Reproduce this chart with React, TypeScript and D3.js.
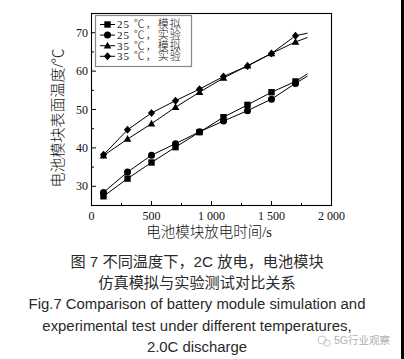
import React from "react";
import * as d3 from "d3";

const times = [100, 300, 500, 700, 900, 1100, 1300, 1500, 1700];
const endTime = 1800;
const sim25 = [27.4, 32.0, 36.2, 40.2, 44.1, 48.0, 51.2, 54.5, 57.3];
const exp25 = [28.4, 33.7, 38.1, 41.1, 44.2, 47.0, 49.7, 52.7, 56.8];
const sim35 = [38.0, 42.3, 46.3, 50.6, 54.5, 58.2, 61.4, 64.6, 67.6];
const exp35 = [38.2, 44.7, 49.1, 52.3, 55.3, 58.6, 61.3, 64.6, 69.2];
const endValues = [59.3, 58.7, 68.75, 69.9];
const seriesNames = ["25 ℃，模拟", "25 ℃，实验", "35 ℃，模拟", "35 ℃，实验"];
const markerKinds = ["square", "circle", "triangle", "diamond"];
const xTicks = [0, 500, 1000, 1500, 2000];
const xTickLabels = ["0", "500", "1 000", "1 500", "2 000"];
const xMinor = [250, 750, 1250, 1750];
const yTicks = [30, 40, 50, 60, 70];
const yMinor = [35, 45, 55, 65];
const captionLines = [
  "图 7  不同温度下，2C 放电，电池模块",
  "仿真模拟与实验测试对比关系",
];
const captionEn = [
  "Fig.7  Comparison of battery module simulation and",
  "experimental test under different temperatures,",
  "2.0C discharge",
];

const serif = "'Liberation Serif','Noto Sans CJK SC',serif";
const sans = "'Liberation Sans','Noto Sans CJK SC',sans-serif";

function Marker({ kind, x, y }: { kind: string; x: number; y: number }) {
  if (kind === "square") return <rect x={x - 3.2} y={y - 3.2} width={6.4} height={6.4} fill="#000" />;
  if (kind === "circle") return <circle cx={x} cy={y} r={3.5} fill="#000" />;
  if (kind === "triangle")
    return <path d={`M${x},${y - 4}L${x + 3.8},${y + 2.8}L${x - 3.8},${y + 2.8}Z`} fill="#000" />;
  return <path d={`M${x},${y - 4}L${x + 3.6},${y}L${x},${y + 4}L${x - 3.6},${y}Z`} fill="#000" />;
}

export default function App() {
  const x = d3.scaleLinear().domain([0, 2000]).range([91.5, 331.5]);
  const y = d3.scaleLinear().domain([25, 75]).range([205.5, 13.5]);
  const series = [sim25, exp25, sim35, exp35];
  const line = d3
    .line<[number, number]>()
    .x((d) => x(d[0]))
    .y((d) => y(d[1]));

  return (
    <svg
      width={404}
      height={359}
      style={{ position: "absolute", left: 0, top: 0, background: "#fff" }}
    >
      <rect x={0} y={0} width={404} height={359} fill="#fff" />
      <rect x={91.5} y={13.5} width={240} height={192} fill="none" stroke="#000" strokeWidth={1.1} />
      {xTicks.map((t) => (
        <line key={"xt" + t} x1={x(t)} x2={x(t)} y1={205.5} y2={201} stroke="#000" />
      ))}
      {xMinor.map((t) => (
        <line key={"xm" + t} x1={x(t)} x2={x(t)} y1={205.5} y2={203} stroke="#000" />
      ))}
      {yTicks.map((t) => (
        <line key={"yt" + t} x1={91.5} x2={96} y1={y(t)} y2={y(t)} stroke="#000" />
      ))}
      {yMinor.map((t) => (
        <line key={"ym" + t} x1={91.5} x2={94} y1={y(t)} y2={y(t)} stroke="#000" />
      ))}
      {xTicks.map((t, i) => (
        <text key={"xl" + t} x={x(t)} y={219.5} fontSize={12} fontFamily={serif} textAnchor="middle" fill="#111">
          {xTickLabels[i]}
        </text>
      ))}
      {yTicks.map((t) => (
        <text key={"yl" + t} x={88} y={y(t) + 4} fontSize={12} fontFamily={serif} textAnchor="end" fill="#111">
          {t}
        </text>
      ))}
      <text x={209} y={237} fontSize={14.5} fontWeight={300} fontFamily={serif} textAnchor="middle" fill="#111">
        电池模块放电时间/s
      </text>
      <text
        transform="translate(63,118) rotate(-90)"
        fontSize={15}
        fontWeight={300}
        fontFamily={serif}
        textAnchor="middle"
        fill="#111"
      >
        电池模块表面温度/℃
      </text>
      {series.map((vals, si) => {
        const pts: [number, number][] = times.map((t, i) => [t, vals[i]] as [number, number]);
        pts.push([endTime, endValues[si]]);
        return (
          <g key={"s" + si}>
            <path d={line(pts) || ""} fill="none" stroke="#000" strokeWidth={1} />
            {times.map((t, i) => (
              <Marker key={i} kind={markerKinds[si]} x={x(t)} y={y(vals[i])} />
            ))}
          </g>
        );
      })}
      <rect x={95.5} y={15.5} width={96} height={51} fill="#fff" stroke="#888" strokeWidth={1.2} />
      {seriesNames.map((n, i) => {
        const ly = 24.5 + i * 10.6;
        return (
          <g key={"lg" + i}>
            <line x1={100} x2={115} y1={ly} y2={ly} stroke="#000" />
            <Marker kind={markerKinds[i]} x={107.5} y={ly} />
            <text
              x={117}
              y={ly + 3.8}
              fontSize={11}
              fontWeight={300}
              letterSpacing={1}
              fontFamily={serif}
              fill="#111"
            >
              {n}
            </text>
          </g>
        );
      })}
      {captionLines.map((c, i) => (
        <text
          key={"c" + i}
          x={197}
          y={267 + i * 21}
          fontSize={15.2}
          fontWeight={400}
          fontFamily={sans}
          textAnchor="middle"
          fill="#2a2a2a"
        >
          {c}
        </text>
      ))}
      {captionEn.map((c, i) => (
        <text
          key={"e" + i}
          x={197}
          y={309 + i * 21.5}
          fontSize={14.9}
          fontFamily={sans}
          textAnchor="middle"
          fill="#2a2a2a"
        >
          {c}
        </text>
      ))}
      <circle cx={322} cy={340} r={4} fill="none" stroke="#c8c8c8" />
      <circle cx={327} cy={343} r={3.2} fill="none" stroke="#c8c8c8" />
      <text x={334} y={344} fontSize={10.5} fontFamily={sans} fill="#b0b0b0">
        5G行业观察
      </text>
      <rect x={401} y={0} width={3} height={359} fill="#000" />
    </svg>
  );
}
